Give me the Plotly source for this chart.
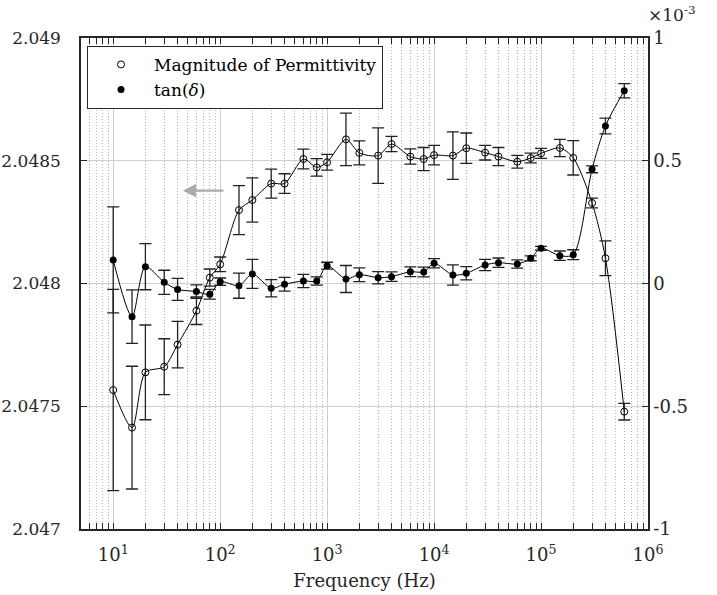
import plotly.graph_objects as go

freq = [10, 15, 20, 30, 40, 60, 80, 100, 150, 200, 300, 400, 600, 800,
        1000, 1500, 2000, 3000, 4000, 6000, 8000, 10000, 15000, 20000,
        30000, 40000, 60000, 80000, 100000, 150000, 200000, 300000, 400000, 600000]

perm = [2.047566, 2.047413, 2.047638, 2.047661, 2.047751, 2.047889, 2.048024, 2.048078,
        2.048299, 2.048340, 2.048407, 2.048407, 2.048507, 2.048473, 2.048494, 2.048587,
        2.048532, 2.048521, 2.048568, 2.048517, 2.048507, 2.048523, 2.048521, 2.048551,
        2.048533, 2.048517, 2.048496, 2.048511, 2.048530, 2.048552, 2.048512, 2.048328,
        2.048103, 2.047478]
perm_err = [0.00041, 0.00025, 0.000193, 0.000114, 0.000095, 0.000056, 0.000035, 0.00003,
            0.0001, 0.00009, 0.000059, 0.00004, 0.00004, 0.000036, 0.000032, 0.000107,
            0.000049, 0.000113, 0.000031, 0.000031, 0.000047, 0.00004, 0.000097, 0.000062,
            0.00003, 0.000037, 0.000026, 0.00002, 0.00002, 0.000035, 0.00007, 0.00002,
            0.000071, 0.000034]

# tan(delta) in units of 1e-3
tand = [0.096, -0.135, 0.0685, 0.005, -0.024, -0.033, -0.044, 0.0074, -0.009, 0.039,
        -0.0195, -0.003, 0.0103, 0.0103, 0.0726, 0.0184, 0.036, 0.0237, 0.028, 0.048,
        0.047, 0.0823, 0.0347, 0.0416, 0.0754, 0.0848, 0.0795, 0.1027, 0.1434, 0.1133,
        0.1174, 0.4652, 0.6416, 0.7854]
tand_err = [0.216, 0.109, 0.094, 0.049, 0.045, 0.027, 0.02, 0.015, 0.051, 0.059,
            0.035, 0.028, 0.027, 0.017, 0.014, 0.055, 0.028, 0.025, 0.019, 0.02,
            0.02, 0.019, 0.041, 0.027, 0.023, 0.019, 0.017, 0.01, 0.008, 0.019,
            0.02, 0.014, 0.032, 0.029]

left_ticks = [2.047, 2.0475, 2.048, 2.0485, 2.049]
left_labels = ["2.047", "2.0475", "2.048", "2.0485", "2.049"]
right_ticks = [-1, -0.5, 0, 0.5, 1]
right_labels = ["-1", "-0.5", "0", "0.5", "1"]
x_ticks = [10, 100, 1000, 10000, 100000, 1000000]
x_labels = ["10<sup>1</sup>", "10<sup>2</sup>", "10<sup>3</sup>", "10<sup>4</sup>",
            "10<sup>5</sup>", "10<sup>6</sup>"]

FONT = "DejaVu Serif"
AX = "#262626"
FS = 17

fig = go.Figure()

fig.add_trace(go.Scatter(x=freq, y=perm, mode="lines", line=dict(color="black", width=1, shape="spline", smoothing=0.8),
                         showlegend=False, hoverinfo="skip"))
fig.add_trace(go.Scatter(x=freq, y=tand, yaxis="y2", mode="lines",
                         line=dict(color="black", width=1, shape="spline", smoothing=0.8),
                         showlegend=False, hoverinfo="skip"))

fig.add_trace(go.Scatter(x=freq, y=perm, mode="markers", name="Magnitude of Permittivity",
                         marker=dict(symbol="circle-open", size=7, color="black", line=dict(width=1)),
                         error_y=dict(type="data", array=perm_err, visible=True, color="#222222",
                                      thickness=1.3, width=6)))
fig.add_trace(go.Scatter(x=freq, y=tand, yaxis="y2", mode="markers", name="tan(<i>δ</i>)",
                         marker=dict(symbol="circle", size=7, color="black"),
                         error_y=dict(type="data", array=tand_err, visible=True, color="#222222",
                                      thickness=1.3, width=6)))

fig.update_layout(
    width=717, height=595,
    margin=dict(l=81, r=69, t=38, b=66),
    paper_bgcolor="white", plot_bgcolor="white",
    font=dict(family=FONT, size=FS, color=AX),
    xaxis=dict(type="log", range=[0.69897, 6], tickvals=x_ticks, ticktext=x_labels,
               ticks="inside", ticklen=6, tickcolor=AX, mirror="allticks",
               showline=True, linecolor=AX, linewidth=1.5, automargin=False,
               showgrid=True, gridcolor="#cfcfcf", gridwidth=1.3,
               minor=dict(dtick="D1", ticks="inside", ticklen=3, tickcolor=AX,
                          showgrid=True, gridcolor="#b5b5b5", griddash="1px,2px", gridwidth=1),
               title=dict(text="Frequency (Hz)", font=dict(family=FONT, size=18), standoff=10),
               ticklabelstandoff=9,
               zeroline=False, tickfont=dict(family=FONT, size=18)),
    yaxis=dict(range=[2.047, 2.049], tickvals=left_ticks, ticktext=left_labels,
               ticks="inside", ticklen=6, tickcolor=AX, automargin=False,
               showline=True, linecolor=AX, linewidth=1.5, ticklabelstandoff=15,
               showgrid=True, gridcolor="#cfcfcf", gridwidth=1.3, zeroline=False,
               tickfont=dict(family=FONT, size=FS)),
    yaxis2=dict(range=[-1, 1], tickvals=right_ticks, ticktext=right_labels, overlaying="y",
                side="right", ticks="inside", ticklen=6, tickcolor=AX, automargin=False,
                showline=True, linecolor=AX, linewidth=1.5,
                showgrid=False, zeroline=False, tickfont=dict(family=FONT, size=18)),
    legend=dict(x=0.0106, y=0.984, xanchor="left", yanchor="top",
                bgcolor="white", bordercolor=AX, borderwidth=1,
                font=dict(family=FONT, size=17, color="black"),
                itemwidth=56, tracegroupgap=0),
    showlegend=True,
)

fig.add_annotation(x=1, y=1, xref="paper", yref="paper", xanchor="left", yanchor="bottom",
                   text="×10<sup>-3</sup>", showarrow=False, xshift=-2, yshift=11,
                   font=dict(family=FONT, size=17, color=AX))

fig.add_annotation(x=1.651, y=2.048378, ax=2.044, ay=2.048378,
                   xref="x", yref="y", axref="x", ayref="y",
                   showarrow=True, arrowhead=2, arrowsize=1.2, arrowwidth=2.2,
                   arrowcolor="#aaaaaa", text="")

fig.write_html("out.html", config={"displayModeBar": False},
               post_script="document.body.style.margin='0';")
